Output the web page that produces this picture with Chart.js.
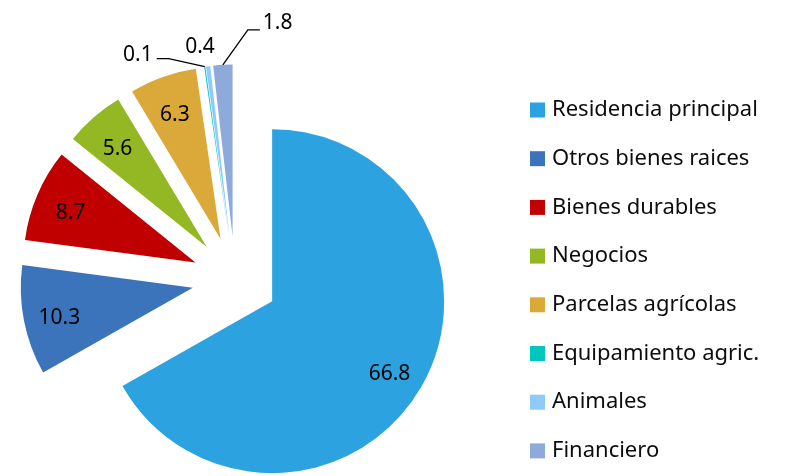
<!DOCTYPE html>
<html>
<head>
<meta charset="utf-8">
<script src="https://cdn.jsdelivr.net/npm/chart.js@4"></script>
<style>
  html, body { margin: 0; padding: 0; background: #fff; }
</style>
</head>
<body>
<canvas id="pieChart" width="790" height="476"></canvas>
<script>
// Composición de activos (%)
const categories = ['Residencia principal', 'Otros bienes raices', 'Bienes durables', 'Negocios',
                    'Parcelas agrícolas', 'Equipamiento agric.', 'Animales', 'Financiero'];
const shares = [66.8, 10.3, 8.7, 5.6, 6.3, 0.1, 0.4, 1.8];
const valueLabels = ['66.8', '10.3', '8.7', '5.6', '6.3', '0.1', '0.4', '1.8'];
const sliceColors = ['#2ca2e0', '#3b74bb', '#c00000', '#93b824', '#dba93a', '#00c6c0', '#8ecbf9', '#8eaadb'];

const FONT = '"Noto Sans", "Open Sans", sans-serif';
const RADIUS = 172;
const EXPLODE = 43;

// callouts for the thin slices: offsets from the slice's outer tip
const callouts = {
    5: { text: [-52, -12], align: 'right', line: [[-36, -8], [-48, -8]] },
    6: { text: [-8, -19], align: 'center', line: null },
    7: { text: [40, -42], align: 'left', line: [[25, -35], [37, -35]] }
};

const explodePlugin = {
    id: 'explode',
    afterDatasetUpdate(chart, args) {
        args.meta.data.forEach(arc => {
            const mid = (arc.startAngle + arc.endAngle) / 2;
            arc.x += Math.cos(mid) * EXPLODE;
            arc.y += Math.sin(mid) * EXPLODE;
        });
    }
};

const valueLabelPlugin = {
    id: 'valueLabels',
    afterDatasetsDraw(chart) {
        const ctx = chart.ctx;
        const arcs = chart.getDatasetMeta(0).data;
        ctx.save();
        ctx.font = '21px ' + FONT;
        ctx.fillStyle = '#000';
        ctx.strokeStyle = '#000';
        ctx.lineWidth = 1.3;
        ctx.textBaseline = 'middle';
        arcs.forEach((arc, i) => {
            const mid = (arc.startAngle + arc.endAngle) / 2;
            const c = callouts[i];
            if (!c) {
                const r = arc.outerRadius * 0.79;
                ctx.textAlign = 'center';
                ctx.fillText(valueLabels[i], arc.x + Math.cos(mid) * r, arc.y + Math.sin(mid) * r + 4);
                return;
            }
            const tx = arc.x + Math.cos(mid) * arc.outerRadius;
            const ty = arc.y + Math.sin(mid) * arc.outerRadius;
            if (c.line) {
                ctx.beginPath();
                ctx.moveTo(tx, ty);
                c.line.forEach(p => ctx.lineTo(tx + p[0], ty + p[1]));
                ctx.stroke();
            }
            ctx.textAlign = c.align;
            ctx.fillText(valueLabels[i], tx + c.text[0], ty + c.text[1]);
        });
        ctx.restore();
    }
};

const legendPlugin = {
    id: 'sideLegend',
    afterDraw(chart) {
        const ctx = chart.ctx;
        ctx.save();
        ctx.font = '22px ' + FONT;
        ctx.textAlign = 'left';
        ctx.textBaseline = 'middle';
        categories.forEach((name, i) => {
            const y = 110 + i * 48.7;
            ctx.fillStyle = sliceColors[i];
            ctx.fillRect(530, y - 7.5, 15, 15);
            ctx.fillStyle = '#0d0d0d';
            ctx.fillText(name, 552, y);
        });
        ctx.restore();
    }
};

new Chart(document.getElementById('pieChart'), {
    type: 'pie',
    data: {
        labels: categories,
        datasets: [{
            data: shares,
            backgroundColor: sliceColors,
            borderWidth: 0
        }]
    },
    options: {
        responsive: false,
        animation: false,
        events: [],
        radius: RADIUS,
        layout: { padding: { left: 0, right: 320, top: 83, bottom: 0 } },
        plugins: {
            legend: { display: false },
            tooltip: { enabled: false }
        }
    },
    plugins: [explodePlugin, valueLabelPlugin, legendPlugin]
});
</script>
</body>
</html>
